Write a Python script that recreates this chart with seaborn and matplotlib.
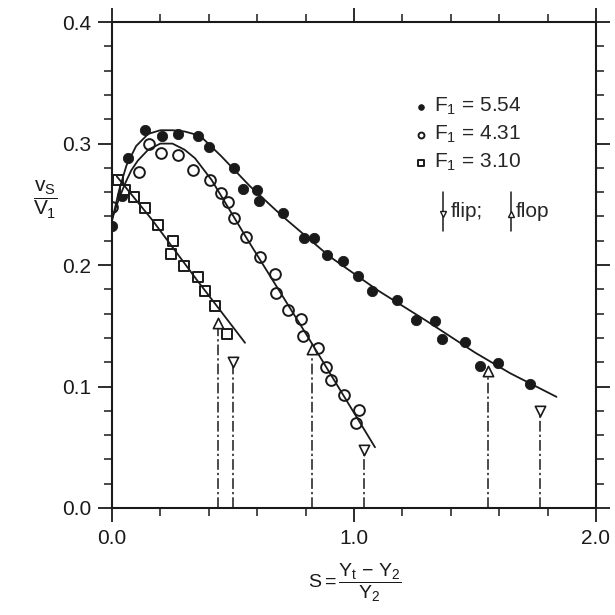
import numpy as np
import pandas as pd
import seaborn as sns
import matplotlib.pyplot as plt
from matplotlib.ticker import MultipleLocator

s_554 = [0.0, 0.043, 0.067, 0.136, 0.205, 0.274, 0.354, 0.402, 0.505, 0.543, 0.60, 0.609,
         0.705, 0.793, 0.835, 0.89, 0.955, 1.015, 1.073, 1.18, 1.256, 1.335, 1.362, 1.459,
         1.523, 1.596, 1.727]
v_554 = [0.232, 0.257, 0.288, 0.311, 0.306, 0.308, 0.306, 0.297, 0.280, 0.263, 0.262, 0.253,
         0.243, 0.222, 0.222, 0.208, 0.203, 0.191, 0.179, 0.171, 0.155, 0.154, 0.139, 0.137,
         0.117, 0.119, 0.102]

s_431 = [0.0, 0.111, 0.155, 0.203, 0.272, 0.336, 0.406, 0.449, 0.481, 0.504, 0.554, 0.613,
         0.674, 0.68, 0.729, 0.78, 0.788, 0.853, 0.885, 0.905, 0.96, 1.023, 1.008]
v_431 = [0.248, 0.277, 0.300, 0.292, 0.291, 0.278, 0.270, 0.259, 0.252, 0.239, 0.223, 0.207,
         0.193, 0.177, 0.163, 0.156, 0.142, 0.132, 0.116, 0.105, 0.093, 0.0805, 0.070]

s_310 = [0.026, 0.054, 0.092, 0.138, 0.19, 0.252, 0.243, 0.297, 0.357, 0.386, 0.426, 0.477]
v_310 = [0.270, 0.262, 0.256, 0.247, 0.233, 0.220, 0.209, 0.199, 0.190, 0.179, 0.166, 0.1435]

# curvas ajustadas
fit_s_554 = [0.0, 0.03, 0.06, 0.1, 0.15, 0.2, 0.25, 0.3, 0.364, 0.45, 0.57, 0.7, 0.9, 1.1,
             1.3, 1.5, 1.645, 1.837]
fit_v_554 = [0.236, 0.262, 0.282, 0.298, 0.308, 0.311, 0.311, 0.310, 0.3065, 0.290, 0.265,
             0.241, 0.207, 0.179, 0.154, 0.128, 0.111, 0.0915]
fit_s_431 = [0.0, 0.03, 0.054, 0.08, 0.107, 0.15, 0.2, 0.25, 0.3, 0.343, 0.412, 0.557, 0.8,
             1.087]
fit_v_431 = [0.238, 0.255, 0.267, 0.278, 0.286, 0.295, 0.300, 0.300, 0.295, 0.288, 0.270,
             0.222, 0.144, 0.050]
fit_s_310 = [0.02, 0.167, 0.35, 0.55]
fit_v_310 = [0.273, 0.237, 0.188, 0.136]

# flip / flop
flop_s = [0.44, 0.825, 1.555]
flop_v = [0.152, 0.131, 0.113]
flip_s = [0.50, 1.043, 1.77]
flip_v = [0.120, 0.048, 0.080]

rotulos = ['F$_1$ = 5.54', 'F$_1$ = 4.31', 'F$_1$ = 3.10']

sns.set_style('ticks')
plt.rcParams['font.family'] = ['Liberation Sans', 'DejaVu Sans']
plt.rcParams['mathtext.fontset'] = 'custom'
plt.rcParams['mathtext.rm'] = 'Liberation Sans'
plt.rcParams['mathtext.it'] = 'Liberation Sans'
plt.rcParams['mathtext.bf'] = 'Liberation Sans:bold'

cor = '#1a1a1a'
fig = plt.figure(figsize=(6.15, 6.15), dpi=100)
ax = fig.add_axes([0.182, 0.174, 0.787, 0.79])

# linhas verticais tracejadas
ax.vlines(flop_s, 0, flop_v, colors=cor, linestyles=(0, (7, 2, 1.5, 2)), linewidth=1.1)
ax.vlines(flip_s, 0, flip_v, colors=cor, linestyles=(0, (7, 2, 1.5, 2)), linewidth=1.1)

for fs, fv in [(fit_s_554, fit_v_554), (fit_s_431, fit_v_431), (fit_s_310, fit_v_310)]:
    sns.lineplot(x=fs, y=fv, sort=False, estimator=None, color=cor, linewidth=1.3, ax=ax)

sns.scatterplot(x=s_554, y=v_554, marker='o', s=55, color=cor, edgecolor=cor, ax=ax,
                label=rotulos[0])
sns.scatterplot(x=s_431, y=v_431, marker='o', s=60, facecolor='white', edgecolor=cor,
                linewidth=1.4, ax=ax, label=rotulos[1])
sns.scatterplot(x=s_310, y=v_310, marker='s', s=50, facecolor='white', edgecolor=cor,
                linewidth=1.4, ax=ax, label=rotulos[2])
sns.scatterplot(x=flop_s, y=flop_v, marker='^', s=55, facecolor='white', edgecolor=cor,
                linewidth=1.2, ax=ax, zorder=4)
sns.scatterplot(x=flip_s, y=flip_v, marker='v', s=55, facecolor='white', edgecolor=cor,
                linewidth=1.2, ax=ax, zorder=4)

leg = ax.legend(loc='upper left', bbox_to_anchor=(0.6, 0.865), frameon=False, fontsize=15,
                handletextpad=0.1, labelspacing=0.32, borderaxespad=0, markerscale=0.55,
                handlelength=1.0)

# legenda flip / flop
for xa, mk in [(0.685, 'v'), (0.825, '^')]:
    ax.plot([xa, xa], [0.57, 0.65], color=cor, lw=1.1, transform=ax.transAxes)
    ax.plot([xa], [0.605], marker=mk, ms=5, mfc='white', mec=cor, mew=1.0,
            transform=ax.transAxes)
ax.text(0.70, 0.61, 'flip;', fontsize=15, va='center', transform=ax.transAxes)
ax.text(0.835, 0.61, 'flop', fontsize=15, va='center', transform=ax.transAxes)

ax.set_xlim(0, 2.0)
ax.set_ylim(0, 0.4)
ax.xaxis.set_major_locator(MultipleLocator(1.0))
ax.xaxis.set_minor_locator(MultipleLocator(0.2))
ax.yaxis.set_major_locator(MultipleLocator(0.1))
ax.yaxis.set_minor_locator(MultipleLocator(0.02))
ax.xaxis.set_major_formatter(lambda v, p: f'{v:.1f}')
ax.yaxis.set_major_formatter(lambda v, p: f'{v:.1f}')
ax.tick_params(which='both', direction='out', top=True, right=True, color=cor,
               labelsize=15, labelcolor=cor)
ax.tick_params(which='major', length=10, width=1.3, pad=5)
ax.tick_params(which='minor', length=6, width=1.1)
for sp in ax.spines.values():
    sp.set_visible(True)
    sp.set_linewidth(1.5)
    sp.set_color(cor)

ax.set_xlabel(r'$S = \dfrac{Y_t\ \mathrm{-}\ Y_2}{Y_2}$', fontsize=14, color=cor,
              va='center')
ax.xaxis.set_label_coords(0.502, -0.155)
ax.set_ylabel(r'$\dfrac{v_S}{V_1}$', fontsize=15, rotation=0, color=cor,
              ha='center', va='center')
ax.yaxis.set_label_coords(-0.138, 0.634)

fig.savefig('out.png', dpi=100)
